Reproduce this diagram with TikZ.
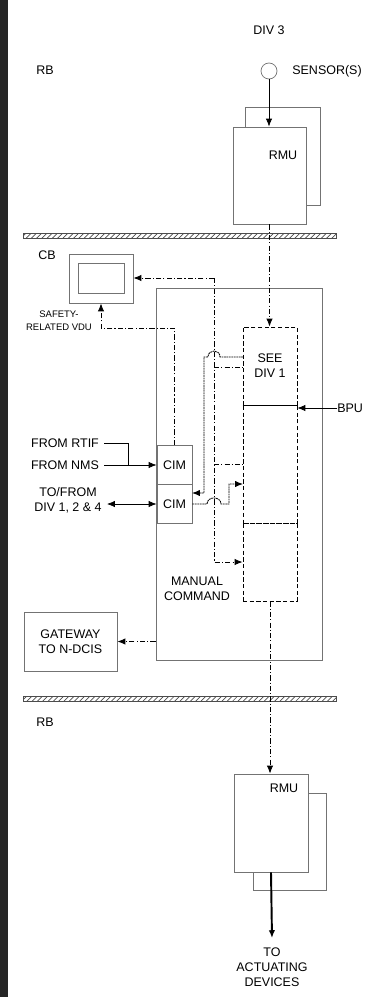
\documentclass[tikz,border=0pt]{standalone}
\usepackage{fontspec}
\setmainfont{Liberation Sans}
\usepackage{tikz}
\usetikzlibrary{positioning}
\usetikzlibrary{arrows.meta,patterns,calc}
\tikzstyle{box}=[draw=black!55,fill=white,inner sep=0pt,line width=0.5pt,align=center,font=\fontsize{7.1}{8.6}\selectfont]
\tikzstyle{dashbox}=[draw,dash pattern=on 2.4pt off 1.4pt,inner sep=0pt,line width=0.5pt,align=center,font=\fontsize{7.1}{8.6}\selectfont]
\tikzstyle{txt}=[inner sep=0pt,align=center,font=\fontsize{7.1}{8.6}\selectfont]
\tikzstyle{smalltxt}=[inner sep=0pt,align=center,font=\fontsize{5.4}{7.4}\selectfont]
\tikzstyle{sig}=[draw,line width=0.5pt,dash pattern=on 3pt off 1.2pt on 0.6pt off 1.2pt]
\tikzstyle{dotline}=[draw,line width=0.5pt,dash pattern=on 1pt off 0.4pt]
\tikzstyle{wall}=[draw=black!70,pattern=north east lines,pattern color=black!70,inner sep=0pt,minimum width=6.26cm,minimum height=0.1cm]

\begin{document}
\begin{tikzpicture}[x=0.02cm,y=-0.02cm,>={Latex[length=4.5pt,width=3.6pt]}]
    \useasboundingbox (0,0) rectangle (381,997);
    \fill[black!85] (0,0) rectangle (8,997);

    % building walls
    \node[wall] (wallup) at (179.5,235.5) {};
    \node[wall] (walldn) at (179.5,699) {};
    \node[txt] (rbup) at (45,70) {RB};
    \node[txt] (cb) at (47,255) {CB};
    \node[txt] (rbdn) at (45,722) {RB};

    % sensor and upper RMU
    \node[txt] (div3) at (269,30) {DIV 3};
    \node[circle,draw=black!55,minimum size=0.32cm,inner sep=0pt] (sensor) at (269,71) {};
    \node[txt,anchor=west] (sensorlbl) at (292,71) {SENSOR(S)};
    \node[box,minimum width=1.5cm,minimum height=1.96cm] (rmuback) at (282.5,156) {};
    \node[box,minimum width=1.46cm,minimum height=1.94cm] (rmu) at (269.5,175.5) {};
    \node[txt] (rmulbl) at (283,155) {RMU};
    \draw[->] (sensor.south) -- (sensor.south |- rmu.north);

    % cabinet with VDU, CIMs and gateway
    \node[box,minimum width=3.32cm,minimum height=7.44cm] (cab) at (239,474) {};
    \node[box,minimum width=1.28cm,minimum height=0.98cm] (vdu) at (101,278.5) {};
    \node[box,minimum width=0.92cm,minimum height=0.6cm] (vduscr) at (101,278) {};
    \node[smalltxt] (vdulbl) at (59,320.5) {SAFETY-\\RELATED VDU};
    \node[box,minimum width=0.7cm,minimum height=0.78cm] (cim1) at (174.5,465) {CIM};
    \node[box,minimum width=0.7cm,minimum height=0.78cm] (cim2) at (174.5,504) {CIM};
    \node[box,minimum width=1.86cm,minimum height=1.18cm] (gw) at (70.5,641.5) {GATEWAY\\TO N-DCIS};
    \node[txt] (manual) at (197,589) {MANUAL\\COMMAND};

    % BPU column
    \node[dashbox,minimum width=1.08cm,minimum height=1.56cm] (seediv) at (270,366) {SEE\\DIV 1};
    \node[dashbox,minimum width=1.08cm,minimum height=2.36cm] (mid) at (270,464) {};
    \node[dashbox,minimum width=1.08cm,minimum height=1.56cm] (bot) at (270,562) {};
    \draw[line width=0.6pt] (seediv.south west) -- (seediv.south east);
    \node[txt,anchor=west] (bpu) at (337,408) {BPU};
    \draw[->] (bpu.west) -- (bpu.west -| mid.east);

    % outside inputs
    \node[txt] (rtif) at (65,443) {FROM RTIF};
    \node[txt] (nms) at (65,465) {FROM NMS};
    \node[txt] (tofrom) at (68,500) {TO/FROM\\DIV 1, 2 \& 4};
    \coordinate (join) at (128,465);
    \draw ([xshift=0.1cm]rtif.east) -| (join);
    \draw[->] ([xshift=0.1cm]nms.east) -- (cim1.west);
    \draw[<->] (tofrom.east |- cim2.west) ++(0.1cm,0) -- (cim2.west);

    % data links
    \coordinate (vdutap) at (101,328);
    \coordinate (bustop) at (214,278);
    \coordinate (tapA) at (214,367);
    \coordinate (tapB) at (214,464);
    \coordinate (busbot) at (214,562);
    \draw[sig,->] (cim1.north) |- (vdutap) -- (vdu.south);
    \draw[sig,->] (bustop) -- (vdu.east |- bustop);
    \draw[sig,->] (bustop) -- (busbot) -- (bot.west);
    \draw[sig] (tapA) -- (tapA -| seediv.west);
    \draw[sig] (tapB) -- (tapB -| mid.west);
    \draw[sig,->] (rmu.south) -- (rmu.south |- seediv.north);
    \draw[sig,->] (gw.east -| cab.west) -- (gw.east);

    % crossing links
    \coordinate (hopA) at (243,357);
    \coordinate (cimin) at (192,493);
    \coordinate (midin) at (243,484);
    \draw[dotline,->] (hopA) -- (220,357) .. controls (220,349) and (208,349) .. (208,357) -| (204,493) -- (cimin);
    \draw[dotline,->] (cim2.east) -- (207,504) .. controls (207,496) and (221,496) .. (221,504) -- (229,504) |- (midin);

    % lower RMU
    \node[box,minimum width=1.46cm,minimum height=1.94cm] (rmu2back) at (289.5,841.5) {};
    \node[box,minimum width=1.48cm,minimum height=1.96cm] (rmu2) at (271,823) {};
    \node[txt] (rmu2lbl) at (284,788) {RMU};
    \draw[sig,->] (bot.south) -- (bot.south |- rmu2.north);
    \node[txt] (act) at (272,967) {TO\\ACTUATING\\DEVICES};
    \draw[line width=1.1pt,->] (rmu2.south) -- ([yshift=0.18cm]act.north);
\end{tikzpicture}
\end{document}
